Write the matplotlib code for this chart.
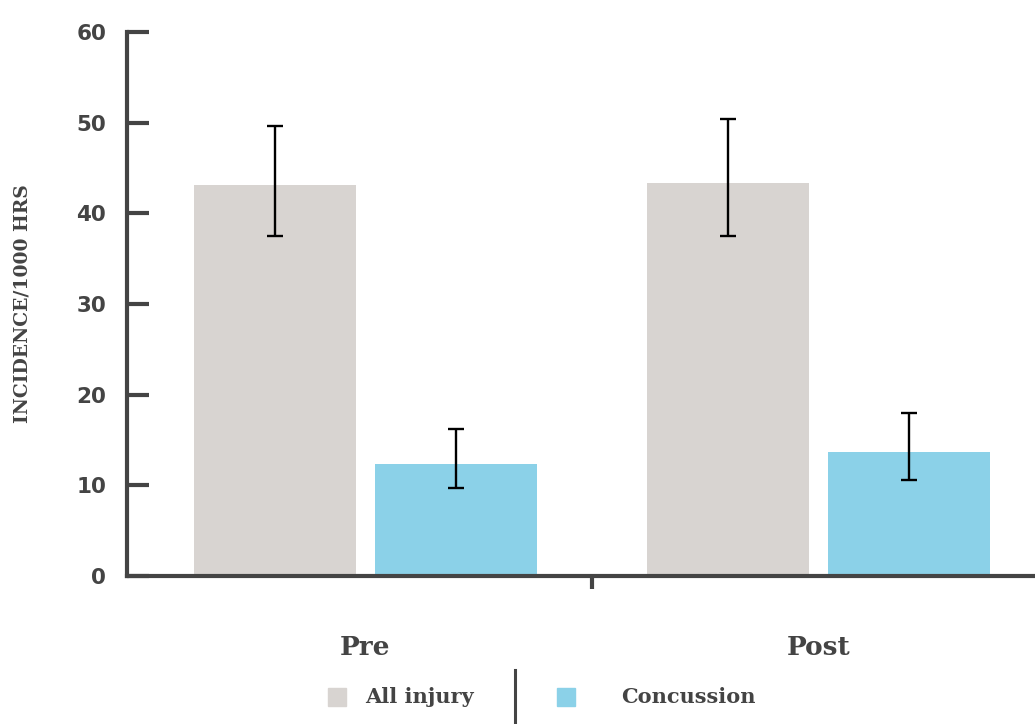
import matplotlib

matplotlib.use("Agg")
import matplotlib.pyplot as plt
import numpy as np
from matplotlib.patches import Rectangle
from matplotlib.lines import Line2D

# data
periods = ["Pre", "Post"]
series = ["All injury", "Concussion"]
all_injury = [43.1, 43.3]
all_injury_lo = [37.5, 37.5]
all_injury_hi = [49.6, 50.4]
concussion = [12.4, 13.7]
concussion_lo = [9.7, 10.6]
concussion_hi = [16.2, 18.0]
y_ticks = [0, 10, 20, 30, 40, 50, 60]

COLORS = {"All injury": "#d8d4d1", "Concussion": "#8bd1e8"}
INK = "#444444"
SERIF = "DejaVu Serif"
SANS = "DejaVu Sans"

fig = plt.figure(figsize=(10.35, 7.24), dpi=100)
ax = fig.add_axes([127 / 1035, 148 / 724, 906 / 1035, 544 / 724])

x = np.arange(len(periods))
width = 0.358
offset = 0.2
for vals, lo, hi, name, sign in [
    (all_injury, all_injury_lo, all_injury_hi, "All injury", -1),
    (concussion, concussion_lo, concussion_hi, "Concussion", 1),
]:
    vals = np.array(vals)
    yerr = np.vstack([vals - np.array(lo), np.array(hi) - vals])
    ax.bar(x + sign * offset, vals, width, color=COLORS[name], zorder=1)
    ax.errorbar(x + sign * offset, vals, yerr=yerr, fmt="none", ecolor="black",
                elinewidth=1.7, capsize=6, capthick=1.7, zorder=3)

ax.set_xlim(-0.526, 1.473)
ax.set_ylim(0, 60)
ax.set_yticks(y_ticks)
ax.set_yticklabels([str(t) for t in y_ticks], fontfamily=SANS, fontweight="bold",
                   fontsize=15.5, color=INK)
ax.tick_params(axis="y", direction="in", length=16, width=3, color=INK, pad=15)
ax.set_xticks([0.5])
ax.set_xticklabels([""])
ax.tick_params(axis="x", direction="out", length=9, width=3, color=INK)
for side in ("top", "right"):
    ax.spines[side].set_visible(False)
for side in ("left", "bottom"):
    ax.spines[side].set_color(INK)
    ax.spines[side].set_linewidth(3)

ax.set_ylabel("INCIDENCE/1000 HRS", fontfamily=SERIF, fontweight="bold",
              fontsize=13.5, color=INK)
ax.yaxis.set_label_coords(-0.105, 0.5)

# period labels under the groups
for xi, p in zip(x, periods):
    ax.text(xi, -7.9, p, ha="center", va="center", fontfamily=SERIF,
            fontweight="bold", fontsize=19, color=INK, clip_on=False)

# hand-built legend with a divider
H, W = 724, 1035
legend_y = 697
for name, sq_x, txt_x in [("All injury", 328, 365), ("Concussion", 557, 621)]:
    fig.add_artist(Rectangle((sq_x / W, (H - legend_y - 9) / H), 18 / W, 18 / H,
                             transform=fig.transFigure, color=COLORS[name]))
    fig.text(txt_x / W, (H - legend_y) / H, name, ha="left", va="center",
             fontfamily=SERIF, fontweight="bold", fontsize=15, color=INK)
fig.add_artist(Line2D([515 / W, 515 / W], [(H - 670) / H, (H - 722) / H],
                      transform=fig.transFigure, color=INK, linewidth=2.2))

fig.savefig("out.png", dpi=100)
